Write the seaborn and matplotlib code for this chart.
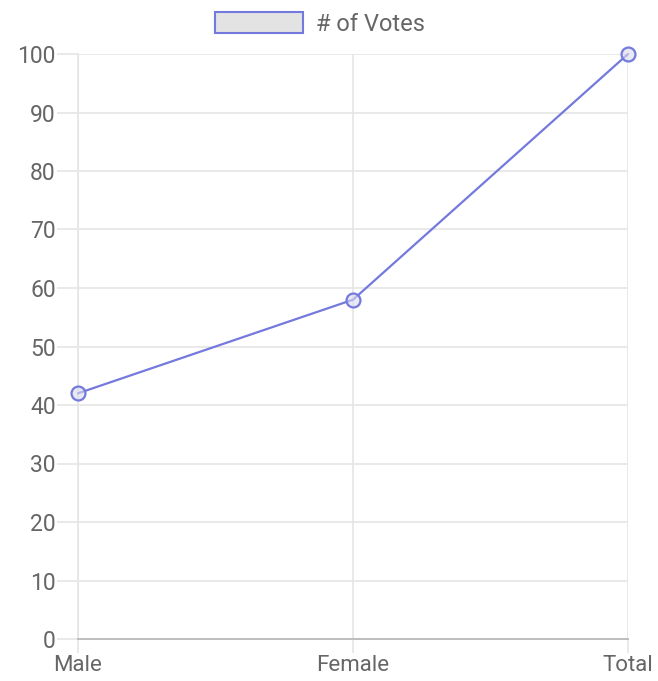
import matplotlib
matplotlib.use("Agg")
import matplotlib.pyplot as plt
from matplotlib.patches import Patch
import seaborn as sns
import pandas as pd

categories = ["Male", "Female", "Total"]
votes = [42, 58, 100]
series_label = "# of Votes"
y_ticks = [0, 10, 20, 30, 40, 50, 60, 70, 80, 90, 100]

sns.set_theme(style="white")
plt.rcParams["font.family"] = ["Roboto", "DejaVu Sans"]

line_color = "#7379dd"
grid_color = "#e5e5e5"
text_color = "#666666"

df = pd.DataFrame({"category": categories, "votes": votes})
df["pos"] = range(len(categories))

fig = plt.figure(figsize=(6.58, 6.81), dpi=100)
ax = fig.add_axes([78 / 658, 1 - 639 / 681, 550 / 658, 585 / 681])

sns.lineplot(
    data=df, x="pos", y="votes", ax=ax, color=line_color, linewidth=1.6,
    marker="o", markersize=10, markerfacecolor=(0.86, 0.86, 0.93, 0.6),
    markeredgecolor=line_color, markeredgewidth=1.6, clip_on=False, zorder=5,
)

ax.set_xlim(0, len(categories) - 1)
ax.set_ylim(0, 100)
ax.set_xticks(df["pos"])
ax.set_xticklabels(categories)
ax.set_yticks(y_ticks)
ax.set_xlabel("")
ax.set_ylabel("")

ax.grid(True, color=grid_color, linewidth=1.2)
ax.set_axisbelow(True)
for side in ["top", "right"]:
    ax.spines[side].set_visible(False)
ax.spines["left"].set_color(grid_color)
ax.spines["left"].set_linewidth(1.2)
ax.spines["bottom"].set_color("#bdbdbd")
ax.spines["bottom"].set_linewidth(1.4)

ax.tick_params(axis="y", length=15, width=1.2, color=grid_color, pad=1,
               labelsize=16.5, labelcolor=text_color, left=True)
ax.tick_params(axis="x", length=10, width=1.2, color=grid_color, pad=1.5,
               labelsize=16, labelcolor=text_color, bottom=True)

handle = Patch(facecolor="#e3e3e3", edgecolor=line_color, linewidth=1.5)
fig.legend(
    handles=[handle], labels=[series_label], loc="center",
    bbox_to_anchor=(320 / 658, 1 - 24 / 681), frameon=False,
    handlelength=3.7, handleheight=0.95, handletextpad=0.55,
    prop={"size": 17}, labelcolor=text_color,
)

fig.savefig("out.png", dpi=100)
